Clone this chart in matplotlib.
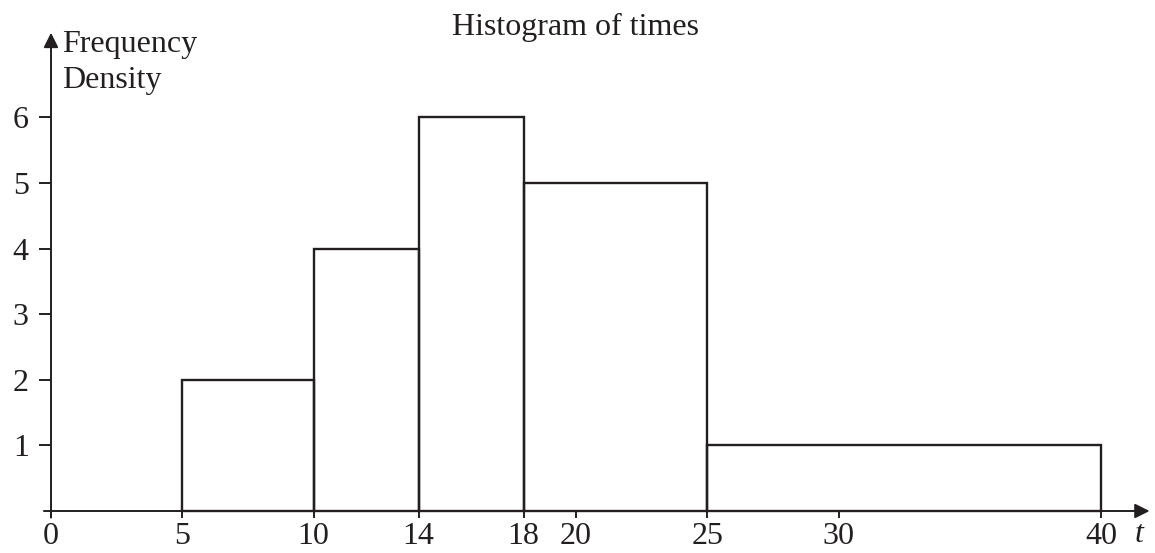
import matplotlib
matplotlib.use("Agg")
import matplotlib.pyplot as plt

# Data
bin_edges = [5, 10, 14, 18, 25, 40]
freq_density = [2, 4, 6, 5, 1]
x_ticks = [0, 5, 10, 14, 18, 20, 25, 30, 40]
y_ticks = [1, 2, 3, 4, 5, 6]
title = "Histogram of times"
ylabel_lines = ["Frequency", "Density"]
xlabel = "t"

INK = "#231f20"
plt.rcParams['font.family'] = ['Liberation Serif', 'DejaVu Serif']
FS = 23

fig = plt.figure(figsize=(11.55, 5.53), dpi=100)
ax = fig.add_axes([0, 0, 1, 1])
ax.set_facecolor('white')

# map pixels: x=0 at px 51, 26.25 px/unit; y=0 at px 511 (from top), 65.6 px/unit
ax.set_xlim(-51 / 26.25, (1155 - 51) / 26.25)
ax.set_ylim(-(553 - 511) / 65.6, 511 / 65.6)

lefts = bin_edges[:-1]
widths = [b - a for a, b in zip(bin_edges[:-1], bin_edges[1:])]
ax.bar(lefts, freq_density, width=widths, align='edge', fill=False,
       edgecolor=INK, linewidth=1.7, zorder=3)

for s in ['top', 'right', 'left', 'bottom']:
    ax.spines[s].set_visible(False)
ax.spines['left'].set_position(('data', 0))
ax.spines['bottom'].set_position(('data', 0))

# axis lines with arrowheads
ax.annotate('', xy=(41.85, 0), xytext=(-0.27, 0),
            arrowprops=dict(arrowstyle='-|>', color=INK, lw=1.4,
                            mutation_scale=22, shrinkA=0, shrinkB=0))
ax.annotate('', xy=(0, 7.29), xytext=(0, -0.1),
            arrowprops=dict(arrowstyle='-|>', color=INK, lw=1.4,
                            mutation_scale=22, shrinkA=0, shrinkB=0))

ax.set_xticks(x_ticks)
ax.set_xticklabels([str(v) for v in x_ticks])
ax.set_yticks(y_ticks)
ax.set_yticklabels([str(v) for v in y_ticks])
ax.tick_params(axis='x', direction='out', length=5, width=1.4, color=INK,
               labelsize=FS, labelcolor=INK, pad=3)
ax.tick_params(axis='y', direction='out', length=9, width=1.4, color=INK,
               labelsize=FS, labelcolor=INK, pad=7)

# labels
ax.text(20.0, 7.26, title, ha='center', va='baseline', fontsize=FS, color=INK)
ax.text(0.42, 7.0, ylabel_lines[0], ha='left', va='baseline', fontsize=FS, color=INK)
ax.text(0.42, 6.45, ylabel_lines[1], ha='left', va='baseline', fontsize=FS, color=INK)
ax.text(41.45, -0.36, xlabel, ha='center', va='center', fontsize=FS,
        style='italic', color=INK)

fig.savefig("out.png", dpi=100, facecolor='white')
